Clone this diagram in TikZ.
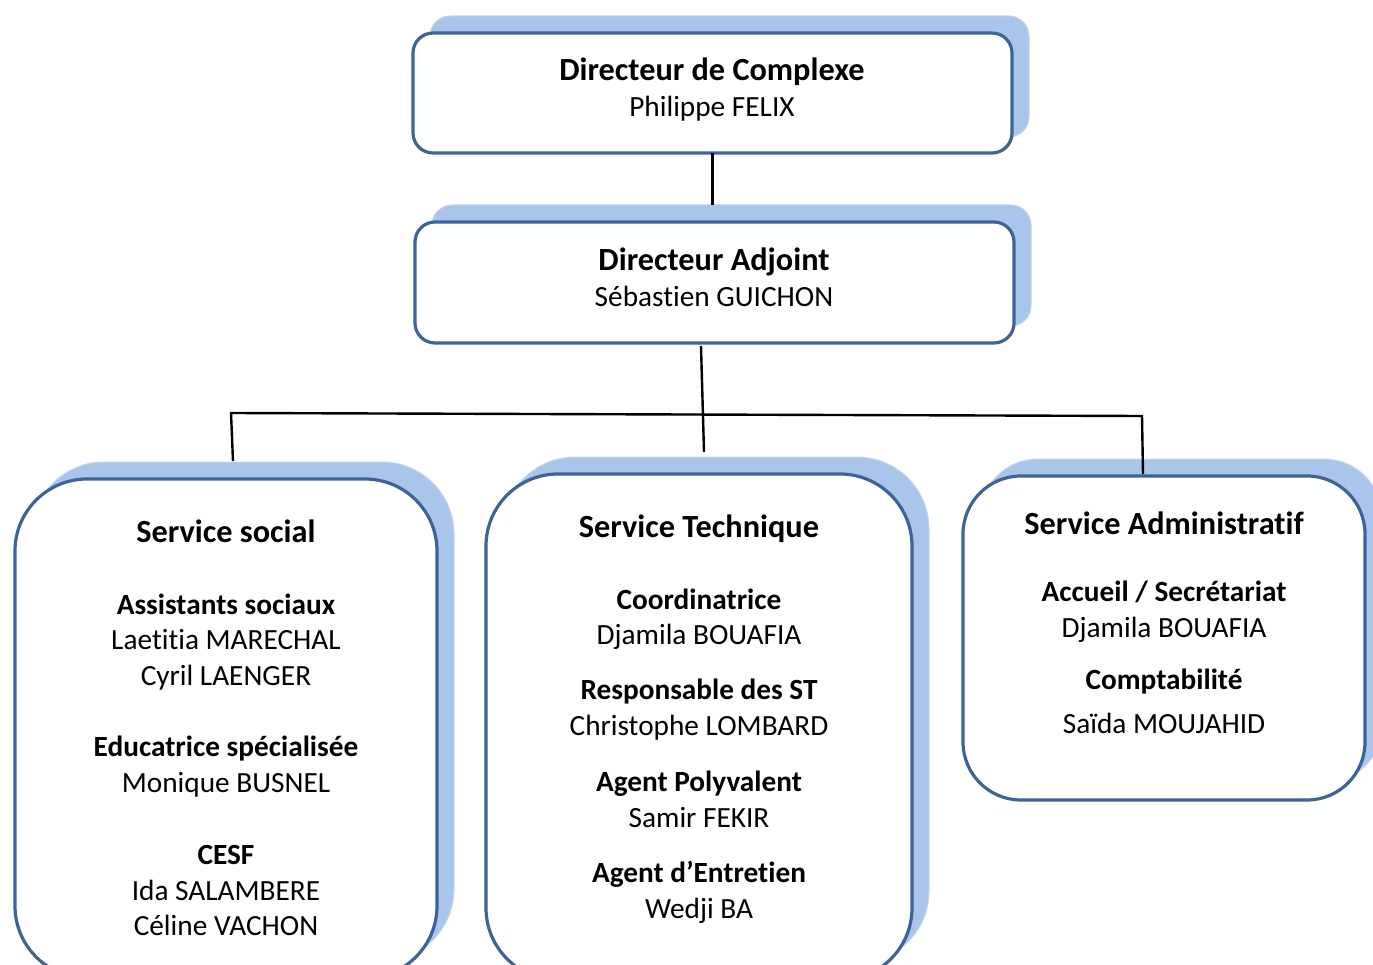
\documentclass[tikz,border=0pt]{standalone}
\usepackage{fontspec}
\setmainfont{Carlito}[Ligatures=NoCommon]
\newcommand\tIx{t\kern0pt i}
\definecolor{bordc}{HTML}{3E6497}
\definecolor{shadc}{HTML}{A9C5EA}
\tikzset{
 shad/.style={fill=shadc, draw=shadc!70!white, line width=1pt, inner sep=0pt, outer sep=0pt},
 mainbox/.style={fill=white, draw=bordc, line width=3.2pt, inner sep=0pt, outer sep=0pt},
 t/.style={anchor=base, inner sep=0pt, font=\fontsize{29.3pt}{36pt}\selectfont},
 tb/.style={anchor=base, inner sep=0pt, font=\fontsize{29.3pt}{36pt}\selectfont\bfseries},
 tt/.style={anchor=base, inner sep=0pt, font=\fontsize{32.3pt}{39pt}\selectfont\bfseries},
 conn/.style={draw=black, line width=2.4pt}
}
\begin{document}
\begin{tikzpicture}[x=1pt,y=-1pt]
\useasboundingbox (0,0) rectangle (1373,965);
\clip (0,0) rectangle (1373,965);
% top boxes
\node[shad, rounded corners=20pt, minimum width=599pt, minimum height=121pt] (dcs) at (729.5,76.5) {};
\node[mainbox, rounded corners=20pt, minimum width=599pt, minimum height=120pt] (dc) at (712.5,93) {};
\node[shad, rounded corners=20pt, minimum width=599pt, minimum height=121pt] (das) at (731.5,265.5) {};
\node[mainbox, rounded corners=20pt, minimum width=599pt, minimum height=121pt] (da) at (714.5,282.5) {};
% bottom boxes
\node[shad, rounded corners=72pt, minimum width=422pt, minimum height=499pt] (sss) at (243,711.5) {};
\node[mainbox, rounded corners=72pt, minimum width=422pt, minimum height=499pt] (ss) at (226,728.5) {};
\node[shad, rounded corners=72pt, minimum width=426pt, minimum height=506pt] (sts) at (716,710) {};
\node[mainbox, rounded corners=72pt, minimum width=426pt, minimum height=506pt] (st) at (699,727) {};
\node[shad, rounded corners=58pt, minimum width=402pt, minimum height=324pt] (sas) at (1181,621) {};
\node[mainbox, rounded corners=58pt, minimum width=402pt, minimum height=324pt] (sa) at (1164,638) {};
% connectors
\coordinate (c1) at (dc.south |- das.north);
\draw[conn] (dc.south) -- (c1);
\coordinate (a1) at (701,346);
\coordinate (a2) at (704,452);
\draw[conn] (a1) -- (a2);
\coordinate (h1) at (231,413);
\coordinate (h2) at (1142,416);
\coordinate (l2) at (233,461);
\coordinate (r2) at (1143,474);
\draw[conn] (l2) -- (h1) -- (h2) -- (r2);
% texts top
\node[tt] (t1) at (712,81) {Directeur de Complexe};
\node[t] (t2) at (712,117) {Philippe FELIX};
\node[tt] (t3) at (714,271) {Directeur Adjoint};
\node[t] (t4) at (714,307) {Sébas\tIx en GUICHON};
% service social
\node[tt] (s1) at (226,542) {Service social};
\node[tb] (s2) at (226,614) {Assistants sociaux};
\node[t] (s3) at (226,649) {Lae\tIx\tIx a MARECHAL};
\node[t] (s4) at (226,685) {Cyril LAENGER};
\node[tb] (s5) at (226,756) {Educatrice spécialisée};
\node[t] (s6) at (226,792) {Monique BUSNEL};
\node[tb] (s7) at (226,864) {CESF};
\node[t] (s8) at (226,900) {Ida SALAMBERE};
\node[t] (s9) at (226,935) {Céline VACHON};
% service technique
\node[tt] (m1) at (699,537) {Service Technique};
\node[tb] (m2) at (699,609) {Coordinatrice};
\node[t] (m3) at (699,644) {Djamila BOUAFIA};
\node[tb] (m4) at (699,699) {Responsable des ST};
\node[t] (m5) at (699,735) {Christophe LOMBARD};
\node[tb] (m6) at (699,791) {Agent Polyvalent};
\node[t] (m7) at (699,827) {Samir FEKIR};
\node[tb] (m8) at (699,882) {Agent d’Entre\tIx en};
\node[t] (m9) at (699,918) {Wedji BA};
% service administratif
\node[tt] (r1) at (1164,534) {Service Administra\tIx f};
\node[tb] (r2t) at (1164,601) {Accueil / Secrétariat};
\node[t] (r3) at (1164,637) {Djamila BOUAFIA};
\node[tb] (r4) at (1164,689) {Comptabilité};
\node[t] (r5) at (1164,733) {Saïda MOUJAHID};
\end{tikzpicture}
\end{document}
